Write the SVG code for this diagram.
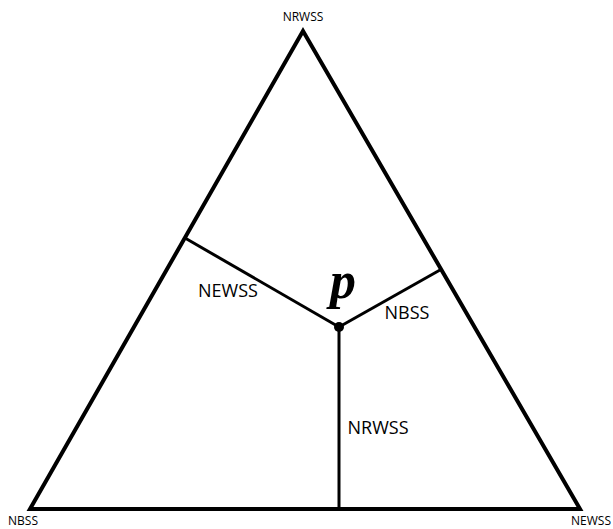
<svg xmlns="http://www.w3.org/2000/svg" width="613" height="529" viewBox="0 0 613 529">
<style>
.lbl{font-family:"Open Sans","Liberation Sans",sans-serif;fill:#000}
.edge{stroke:#000;stroke-width:3;fill:none}
</style>
<rect width="613" height="529" fill="#fff"/>
<g id="triangle">
<polygon points="303,31 30,509 580,509" fill="none" stroke="#000" stroke-width="4" stroke-linejoin="miter"/>
</g>
<g id="connectors">
<line class="edge" x1="339" y1="327" x2="185" y2="238"/>
<line class="edge" x1="339" y1="327" x2="440" y2="270"/>
<line class="edge" x1="339" y1="327" x2="339" y2="509"/>
</g>
<g id="point-p">
<circle cx="339" cy="327" r="5" fill="#000"/>
<text x="343" y="298" text-anchor="middle" font-family="'Liberation Serif',serif" font-weight="bold" font-style="italic" font-size="52">p</text>
</g>
<g id="vertex-top"><text class="lbl" x="303" y="21" text-anchor="middle" font-size="12">NRWSS</text></g>
<g id="vertex-left"><text class="lbl" x="23" y="525" text-anchor="middle" font-size="12">NBSS</text></g>
<g id="vertex-right"><text class="lbl" x="591" y="525" text-anchor="middle" font-size="12">NEWSS</text></g>
<g id="label-newss"><text class="lbl" x="228" y="297" text-anchor="middle" font-size="18">NEWSS</text></g>
<g id="label-nbss"><text class="lbl" x="407" y="319" text-anchor="middle" font-size="18">NBSS</text></g>
<g id="label-nrwss"><text class="lbl" x="378" y="434" text-anchor="middle" font-size="18">NRWSS</text></g>
</svg>
